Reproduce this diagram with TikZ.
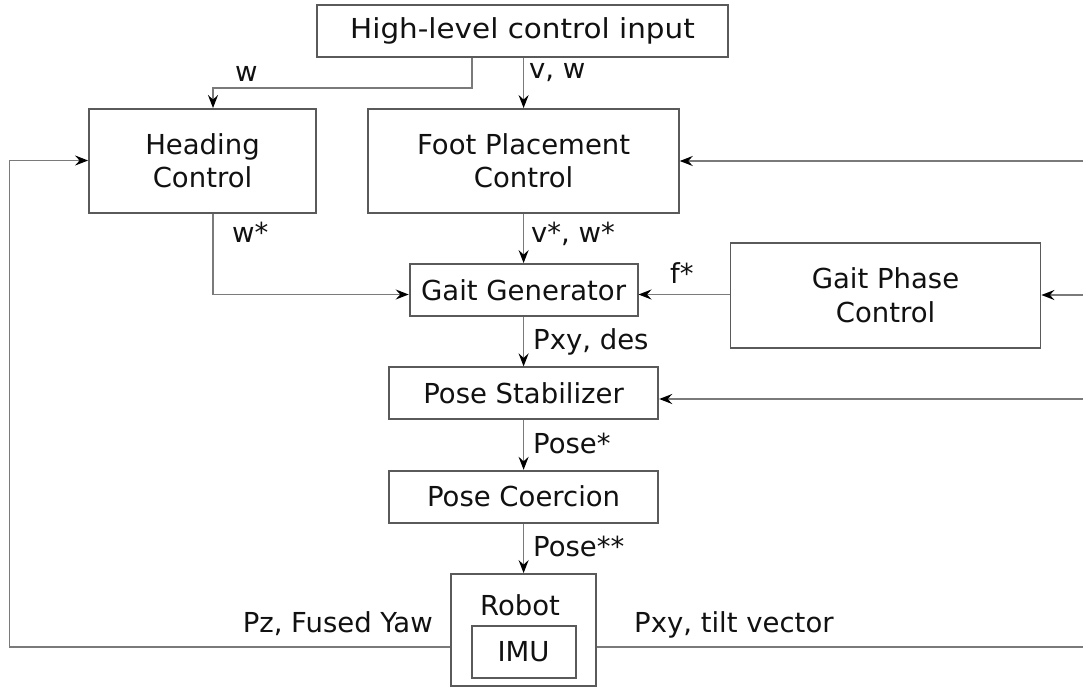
\documentclass[tikz,border=0pt]{standalone}
\usepackage{fontspec}
\setmainfont{DejaVu Sans}
\usetikzlibrary{arrows.meta}
\definecolor{boxc}{HTML}{5A5A5A}
\definecolor{linec}{HTML}{7A7A7A}
\definecolor{textc}{HTML}{111111}
\newcommand\dfont{\fontsize{27.5}{33.3}\selectfont}
\begin{document}
\begin{tikzpicture}[x=1pt,y=-1pt,
  box/.style={draw=boxc, line width=1.8pt, inner sep=0pt, align=center, font=\dfont, text=textc},
  conn/.style={draw=linec, line width=1.7pt},
  arr/.style={conn, -{Stealth[length=13pt,width=10pt,inset=4.5pt,color=black]}},
  lab/.style={inner sep=0pt, font=\dfont, text=textc}]
\useasboundingbox (0,0) rectangle (1083,688);
\clip (0,0) rectangle (1083,688);
\fill[white] (0,0) rectangle (1083,688);

% boxes
\node[box, minimum width=411pt, minimum height=52pt] (hl) at (522.5,31) {\scalebox{1.07}[1]{High-level control input}};
\node[box, minimum width=227pt, minimum height=103.7pt] (head) at (202.5,160.8) {Heading\\Control};
\node[box, minimum width=310.5pt, minimum height=103.7pt] (foot) at (523.6,160.8) {Foot Placement\\Control};
\node[box, minimum width=228pt, minimum height=52pt] (gg) at (523.6,290) {Gait Generator};
\node[box, minimum width=310pt, minimum height=105pt] (gpc) at (885.5,295.2) {Gait Phase\\Control};
\node[box, minimum width=269.4pt, minimum height=52pt] (ps) at (523.6,393.3) {Pose Stabilizer};
\node[box, minimum width=269.4pt, minimum height=52pt] (pc) at (523.6,496.7) {Pose Coercion};
\node[box, minimum width=145pt, minimum height=112pt] (robot) at (523.6,630) {};
\node[lab, anchor=base] (robotlab) at (520,615) {Robot};
\node[box, minimum width=104pt, minimum height=52pt] (imu) at (523.6,652) {IMU};

% helper coordinates
\coordinate (wturn) at (472,88.3);
\coordinate (wdown) at (213,88.3);
\coordinate (gy) at (0,294.5);
\coordinate (fbl) at (9.6,647);
\coordinate (fbh) at (9.6,160.5);
\coordinate (rfoot) at (1090,161);
\coordinate (rgpc) at (1090,295);
\coordinate (rps) at (1090,399);
\coordinate (rrob) at (1090,647);

% connectors
\draw[arr] (hl.south -| wturn) -- (wturn) -- (wdown) -- (wdown |- head.north);
\draw[arr] (foot.north |- hl.south) -- (foot.north);
\draw[arr] (robot.west |- fbl) -- (fbl) -- (fbh) -- (head.west |- fbh);
\draw[arr] (head.south -| wdown) |- (gg.west |- gy);
\draw[arr] (foot.south) -- (gg.north);
\draw[arr] (gpc.west |- gy) -- (gg.east |- gy);
\draw[arr] (rgpc) -- (gpc.east |- rgpc);
\draw[arr] (rfoot) -- (foot.east |- rfoot);
\draw[arr] (rps) -- (ps.east |- rps);
\draw[arr] (gg.south) -- (ps.north);
\draw[arr] (ps.south) -- (pc.north);
\draw[arr] (pc.south) -- (robot.north);
\draw[conn] (robot.east |- rrob) -- (rrob);

% labels
\node[lab, anchor=base west] (lw) at (235,81) {w};
\node[lab, anchor=base west] (lvw) at (529,78) {v, w};
\node[lab, anchor=base west] (lws) at (232,242) {w*};
\node[lab, anchor=base west] (lvws) at (531,242) {v*, w*};
\node[lab, anchor=base west] (lf) at (670,283) {f*};
\node[lab, anchor=base west] (lpxy) at (533,349) {Pxy, des};
\node[lab, anchor=base west] (lpose) at (533,453) {Pose*};
\node[lab, anchor=base west] (lposes) at (533,556) {Pose**};
\node[lab, anchor=base east] (lpz) at (433,632) {Pz, Fused Yaw};
\node[lab, anchor=base west] (ltilt) at (634,632) {Pxy, tilt vector};
\end{tikzpicture}
\end{document}
